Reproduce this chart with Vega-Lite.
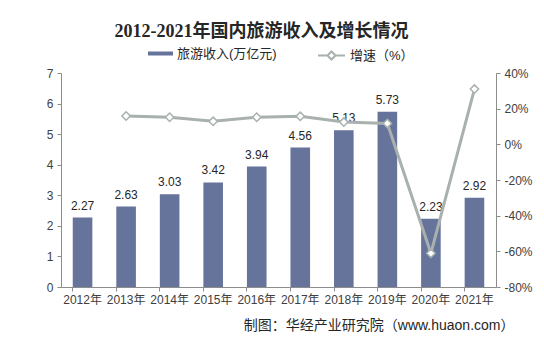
{
  "$schema": "https://vega.github.io/schema/vega-lite/v6.json",
  "autosize": {"type": "none"},
  "width": 435,
  "height": 214,
  "padding": {"left": 61, "top": 73, "right": 48, "bottom": 56},
  "background": "white",
  "config": {
    "view": {"stroke": null},
    "font": "Liberation Sans, Noto Sans CJK SC",
    "axis": {"labelFont": "Liberation Sans, Noto Sans CJK SC", "labelFontSize": 12, "labelColor": "#404040", "domainColor": "#8c8c8c", "tickColor": "#8c8c8c", "grid": false}
  },
  "title": {
    "text": "2012-2021年国内旅游收入及增长情况",
    "font": "Liberation Serif, Noto Sans CJK SC",
    "fontSize": 18,
    "fontWeight": "bold",
    "color": "#262626",
    "anchor": "middle",
    "dx": -17,
    "offset": 0
  },
  "data": {
    "values": [
      {"year": "2012年", "revenue": 2.27, "growth": null},
      {"year": "2013年", "revenue": 2.63, "growth": 15.9},
      {"year": "2014年", "revenue": 3.03, "growth": 15.2},
      {"year": "2015年", "revenue": 3.42, "growth": 12.9},
      {"year": "2016年", "revenue": 3.94, "growth": 15.2},
      {"year": "2017年", "revenue": 4.56, "growth": 15.7},
      {"year": "2018年", "revenue": 5.13, "growth": 12.5},
      {"year": "2019年", "revenue": 5.73, "growth": 11.7},
      {"year": "2020年", "revenue": 2.23, "growth": -61.1},
      {"year": "2021年", "revenue": 2.92, "growth": 31.0}
    ]
  },
  "encoding": {
    "x": {
      "field": "year", "type": "nominal", "sort": null,
      "scale": {"paddingInner": 0.55, "paddingOuter": 0.27},
      "axis": {
        "labelAngle": 0, "bandPosition": 0, "tickSize": 4, "labelPadding": 3,
        "title": "制图：华经产业研究院（www.huaon.com）",
        "titleFont": "Liberation Sans, Noto Sans CJK SC",
        "titleFontSize": 14, "titleFontWeight": "normal", "titleColor": "#262626",
        "titleAlign": "right", "titleAnchor": "end", "titleX": 453, "titleY": 31
      }
    }
  },
  "layer": [
    {
      "mark": {"type": "bar"},
      "encoding": {
        "y": {"field": "revenue", "type": "quantitative", "scale": {"domain": [0, 7]},
          "axis": {"title": null, "values": [0,1,2,3,4,5,6,7], "tickSize": 4, "labelPadding": 4}},
        "fill": {"datum": "旅游收入(万亿元)", "type": "nominal",
          "scale": {"range": ["#66739b"]},
          "legend": {"title": null, "orient": "none", "legendX": 87, "legendY": -32,
            "symbolType": "M-1,-0.16H1V0.16H-1Z", "symbolSize": 625, "symbolStrokeWidth": 0,
            "labelFontSize": 13, "labelColor": "#262626", "labelFont": "Liberation Sans, Noto Sans CJK SC", "padding": 0, "symbolOffset": 0}}
      }
    },
    {
      "mark": {"type": "text", "dy": -12, "fontSize": 12, "color": "#262626", "font": "Liberation Sans"},
      "encoding": {
        "y": {"field": "revenue", "type": "quantitative", "scale": {"domain": [0, 7]}, "axis": null},
        "text": {"field": "revenue", "type": "quantitative", "format": ".2f"}
      }
    },
    {
      "transform": [{"filter": "datum.growth != null"}],
      "encoding": {
        "y": {"field": "growth", "type": "quantitative", "scale": {"domain": [-80, 40]},
          "axis": {"title": null, "orient": "right", "values": [-80,-60,-40,-20,0,20,40], "labelExpr": "datum.value + '%'", "tickSize": 4, "labelPadding": 4}}
      },
      "layer": [
        {
          "mark": {"type": "line", "strokeWidth": 3, "color": "#a9b1ae"},
          "encoding": {
            "stroke": {"datum": "增速（%）", "type": "nominal",
              "scale": {"range": ["#a9b1ae"]},
              "legend": {"title": null, "orient": "none", "legendX": 256, "legendY": -32,
                "symbolType": "M-1,0H-0.3M0.3,0H1M-0.3,0L0,-0.3L0.3,0L0,0.3Z", "symbolSize": 729, "symbolStrokeWidth": 2,
                "symbolFillColor": "white",
                "labelFontSize": 13, "labelColor": "#262626", "labelFont": "Liberation Sans, Noto Sans CJK SC", "padding": 0}}
          }
        },
        {
          "mark": {"type": "point", "shape": "diamond", "filled": true, "fill": "white", "stroke": "#a9b1ae", "strokeWidth": 1.5, "size": 70, "opacity": 1}
        }
      ]
    }
  ],
  "resolve": {"scale": {"y": "independent"}}
}
